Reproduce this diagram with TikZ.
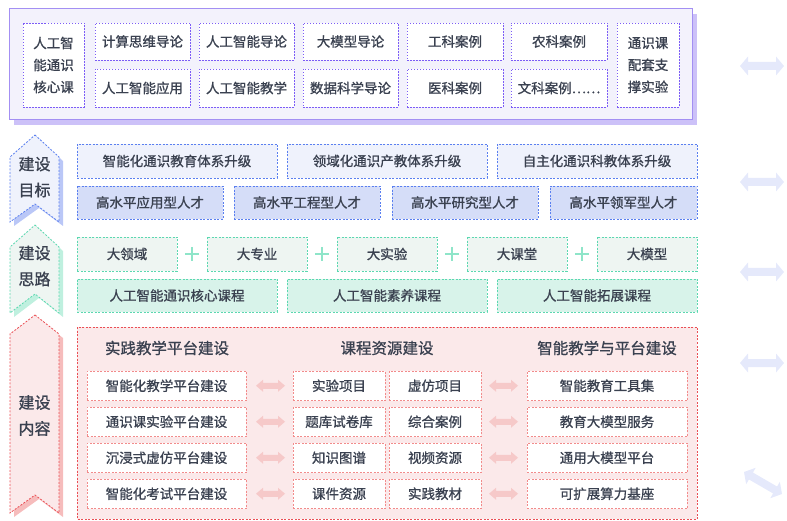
\documentclass[tikz,border=0pt]{standalone}
\usepackage{fontspec}
\setmainfont[FakeBold=1]{Noto Sans CJK SC}
\usetikzlibrary{calc}
\definecolor{txt}{HTML}{3A4150}
\definecolor{panelfill}{HTML}{F3F2FC}
\definecolor{paneldraw}{HTML}{A38FF3}
\definecolor{panelshadow}{HTML}{CCC1F8}
\definecolor{pdot}{HTML}{7C5CF6}
\definecolor{gdraw}{HTML}{5A7FF0}
\definecolor{gfillA}{HTML}{EFF2FC}
\definecolor{gfillB}{HTML}{D5DDF8}
\definecolor{gshadow}{HTML}{BAC7F7}
\definecolor{tdraw}{HTML}{5BD8B0}
\definecolor{tfillA}{HTML}{EEF5F2}
\definecolor{tfillB}{HTML}{D8F3EA}
\definecolor{tplus}{HTML}{8FE5C9}
\definecolor{tshadow}{HTML}{BFF0DF}
\definecolor{cdraw}{HTML}{EA4F55}
\definecolor{cfill}{HTML}{FBE9EA}
\definecolor{citem}{HTML}{F28B8B}
\definecolor{carrow}{HTML}{F6C9C9}
\definecolor{cshadow}{HTML}{F6BCBC}
\definecolor{rarrow}{HTML}{E5E9FB}
\newcommand\bx[7]{\node[#1, minimum width={#5-#3}, minimum height={#6-#4}] (#2) at ({(#3+#5)/2},{(#4+#6)/2}) {#7};}
% fat double arrow between two named coordinates
% #1 style, #2 from, #3 to, #4 head length, #5 head half-height, #6 shaft half-height
\newcommand\fatarrow[6]{%
  \path let \p1=(#2), \p2=(#3), \n1={atan2(\y2-\y1,\x2-\x1)}, \n2={veclen(\x2-\x1,\y2-\y1)} in
    \pgfextra{\xdef\fAng{\n1}\xdef\fLen{\n2}};
  \begin{scope}[shift={(#2)}, rotate=\fAng]
    \fill[#1] (0,0) -- (#4,-#5) -- (#4,-#6) -- (\fLen-#4,-#6) -- (\fLen-#4,-#5) -- (\fLen,0)
      -- (\fLen-#4,#5) -- (\fLen-#4,#6) -- (#4,#6) -- (#4,#5) -- cycle;
  \end{scope}}
\begin{document}
\begin{tikzpicture}[x=1pt,y=-1pt,
  base/.style={inner sep=0pt, outer sep=0pt, text=txt, align=center, font=\fontsize{13.5}{22}\selectfont, line width=0.8pt},
  pbox/.style={base, draw=pdot, fill=white, dash pattern=on 1.5pt off 1.5pt},
  gboxA/.style={base, draw=gdraw, fill=gfillA, dash pattern=on 2pt off 1.5pt},
  gboxB/.style={base, draw=gdraw, fill=gfillB, dash pattern=on 2pt off 1.5pt},
  tboxA/.style={base, draw=tdraw, fill=tfillA, dash pattern=on 2pt off 1.5pt},
  tboxB/.style={base, draw=tdraw, fill=tfillB, dash pattern=on 2pt off 1.5pt},
  cbox/.style={base, draw=citem, fill=white, dash pattern=on 2pt off 1.5pt},
  chead/.style={base, font=\fontsize{15.5}{18}\selectfont},
  chlabel/.style={base, font=\fontsize{16}{26}\selectfont},
  plusline/.style={draw=tplus, line width=2pt},
  pinkarrow/.style={fill=carrow},
  sidearrow/.style={fill=rarrow},
  chev/.style={line width=0.8pt, dash pattern=on 2pt off 1.5pt}
]
\useasboundingbox (0,0) rectangle (787,521);

% ---------- top panel ----------
\fill[panelshadow] (14,14) rectangle (697,125);
\draw[fill=panelfill, draw=paneldraw, line width=1pt] (9,9) rectangle (692,120);
\bx{pbox}{p1}{23}{23}{84}{107}{人工智\\能通识\\核心课}
\bx{pbox}{p2}{95}{23}{190}{60}{计算思维导论}
\bx{pbox}{p3}{199}{23}{294}{60}{人工智能导论}
\bx{pbox}{p4}{303}{23}{398}{60}{大模型导论}
\bx{pbox}{p5}{407}{23}{503}{60}{工科案例}
\bx{pbox}{p6}{511}{23}{607}{60}{农科案例}
\bx{pbox}{p7}{95}{69}{190}{107}{人工智能应用}
\bx{pbox}{p8}{199}{69}{294}{107}{人工智能教学}
\bx{pbox}{p9}{303}{69}{398}{107}{数据科学导论}
\bx{pbox}{p10}{407}{69}{503}{107}{医科案例}
\bx{pbox}{p11}{511}{69}{607}{107}{文科案例……}
\bx{pbox}{p12}{617}{23}{679}{107}{通识课\\配套支\\撑实验}

% ---------- chevrons ----------
\fill[gshadow] (39,139) -- (63,161) -- (63,226) -- (39,208) -- (14,226) -- (14,161) -- cycle;
\draw[chev, draw=gdraw, fill=gfillA] (35,135) -- (59,157) -- (59,222) -- (35,204) -- (10,222) -- (10,157) -- cycle;
\node[chlabel] (lgoal) at (34.5,177) {建设\\目标};

\fill[tshadow] (39,229) -- (63,251) -- (63,317) -- (39,298) -- (14,317) -- (14,251) -- cycle;
\draw[chev, draw=tdraw, fill=tfillA] (35,225) -- (59,247) -- (59,313) -- (35,294) -- (10,313) -- (10,247) -- cycle;
\node[chlabel] (lthink) at (34.5,266) {建设\\思路};

\fill[cshadow] (39,319) -- (63,338) -- (63,517) -- (39,499) -- (14,517) -- (14,338) -- cycle;
\draw[chev, draw=cdraw, fill=cfill] (35,315) -- (59,334) -- (59,513) -- (35,495) -- (10,513) -- (10,334) -- cycle;
\node[chlabel] (lcontent) at (34.5,415.5) {建设\\内容};

% ---------- goals ----------
\bx{gboxA}{g1}{77}{144}{277}{178}{智能化通识教育体系升级}
\bx{gboxA}{g2}{287}{144}{487}{178}{领域化通识产教体系升级}
\bx{gboxA}{g3}{497}{144}{697}{178}{自主化通识科教体系升级}
\bx{gboxB}{g4}{77}{186}{223}{219}{高水平应用型人才}
\bx{gboxB}{g5}{234}{186}{380}{219}{高水平工程型人才}
\bx{gboxB}{g6}{392}{186}{538}{219}{高水平研究型人才}
\bx{gboxB}{g7}{550}{186}{697}{219}{高水平领军型人才}

% ---------- thinking ----------
\bx{tboxA}{t1}{77}{237}{177}{271}{大领域}
\bx{tboxA}{t2}{207}{237}{307}{271}{大专业}
\bx{tboxA}{t3}{337}{237}{437}{271}{大实验}
\bx{tboxA}{t4}{467}{237}{567}{271}{大课堂}
\bx{tboxA}{t5}{597}{237}{697}{271}{大模型}
\foreach \px in {192,322,452,582}{
  \draw[plusline] (\px-7,254) -- (\px+7,254);
  \draw[plusline] (\px,247) -- (\px,261);
}
\bx{tboxB}{t6}{77}{279}{277}{312}{人工智能通识核心课程}
\bx{tboxB}{t7}{287}{279}{487}{312}{人工智能素养课程}
\bx{tboxB}{t8}{497}{279}{697}{312}{人工智能拓展课程}

% ---------- content ----------
\draw[fill=cfill, draw=cdraw, line width=0.8pt, dash pattern=on 2pt off 1.5pt] (77,327) rectangle (697,519);
\node[chead] (h1) at (167,348) {实践教学平台建设};
\node[chead] (h2) at (387,348) {课程资源建设};
\node[chead] (h3) at (607,348) {智能教学与平台建设};

\bx{cbox}{a1}{87}{371}{246}{400.5}{智能化教学平台建设}
\bx{cbox}{a2}{87}{407}{246}{436.5}{通识课实验平台建设}
\bx{cbox}{a3}{87}{443}{246}{472.5}{沉浸式虚仿平台建设}
\bx{cbox}{a4}{87}{479}{246}{508.5}{智能化考试平台建设}

\bx{cbox}{b1}{293}{371}{385}{400.5}{实验项目}
\bx{cbox}{b2}{293}{407}{385}{436.5}{题库试卷库}
\bx{cbox}{b3}{293}{443}{385}{472.5}{知识图谱}
\bx{cbox}{b4}{293}{479}{385}{508.5}{课件资源}

\bx{cbox}{c1}{389}{371}{481}{400.5}{虚仿项目}
\bx{cbox}{c2}{389}{407}{481}{436.5}{综合案例}
\bx{cbox}{c3}{389}{443}{481}{472.5}{视频资源}
\bx{cbox}{c4}{389}{479}{481}{508.5}{实践教材}

\bx{cbox}{d1}{527}{371}{687}{400.5}{智能教育工具集}
\bx{cbox}{d2}{527}{407}{687}{436.5}{教育大模型服务}
\bx{cbox}{d3}{527}{443}{687}{472.5}{通用大模型平台}
\bx{cbox}{d4}{527}{479}{687}{508.5}{可扩展算力基座}

\foreach \i in {1,2,3,4}{
  \coordinate (la\i) at ([xshift=10pt]a\i.east);
  \coordinate (lb\i) at ([xshift=-8pt]b\i.west);
  \coordinate (rc\i) at ([xshift=8pt]c\i.east);
  \coordinate (rd\i) at ([xshift=-9pt]d\i.west);
  \fatarrow{pinkarrow}{la\i}{lb\i}{7}{6}{3}
  \fatarrow{pinkarrow}{rc\i}{rd\i}{7}{6}{3}
}

% ---------- right side arrows ----------
\coordinate (r1a) at (740,66);  \coordinate (r1b) at (784,66);
\coordinate (r2a) at (740,182); \coordinate (r2b) at (784,182);
\coordinate (r3a) at (740,272); \coordinate (r3b) at (784,272);
\coordinate (r4a) at (740,363); \coordinate (r4b) at (784,363);
\coordinate (r5a) at (744,472); \coordinate (r5b) at (782,494);
\foreach \i in {1,...,5}{
  \fatarrow{sidearrow}{r\i a}{r\i b}{8}{9.5}{4}
}
\end{tikzpicture}
\end{document}
